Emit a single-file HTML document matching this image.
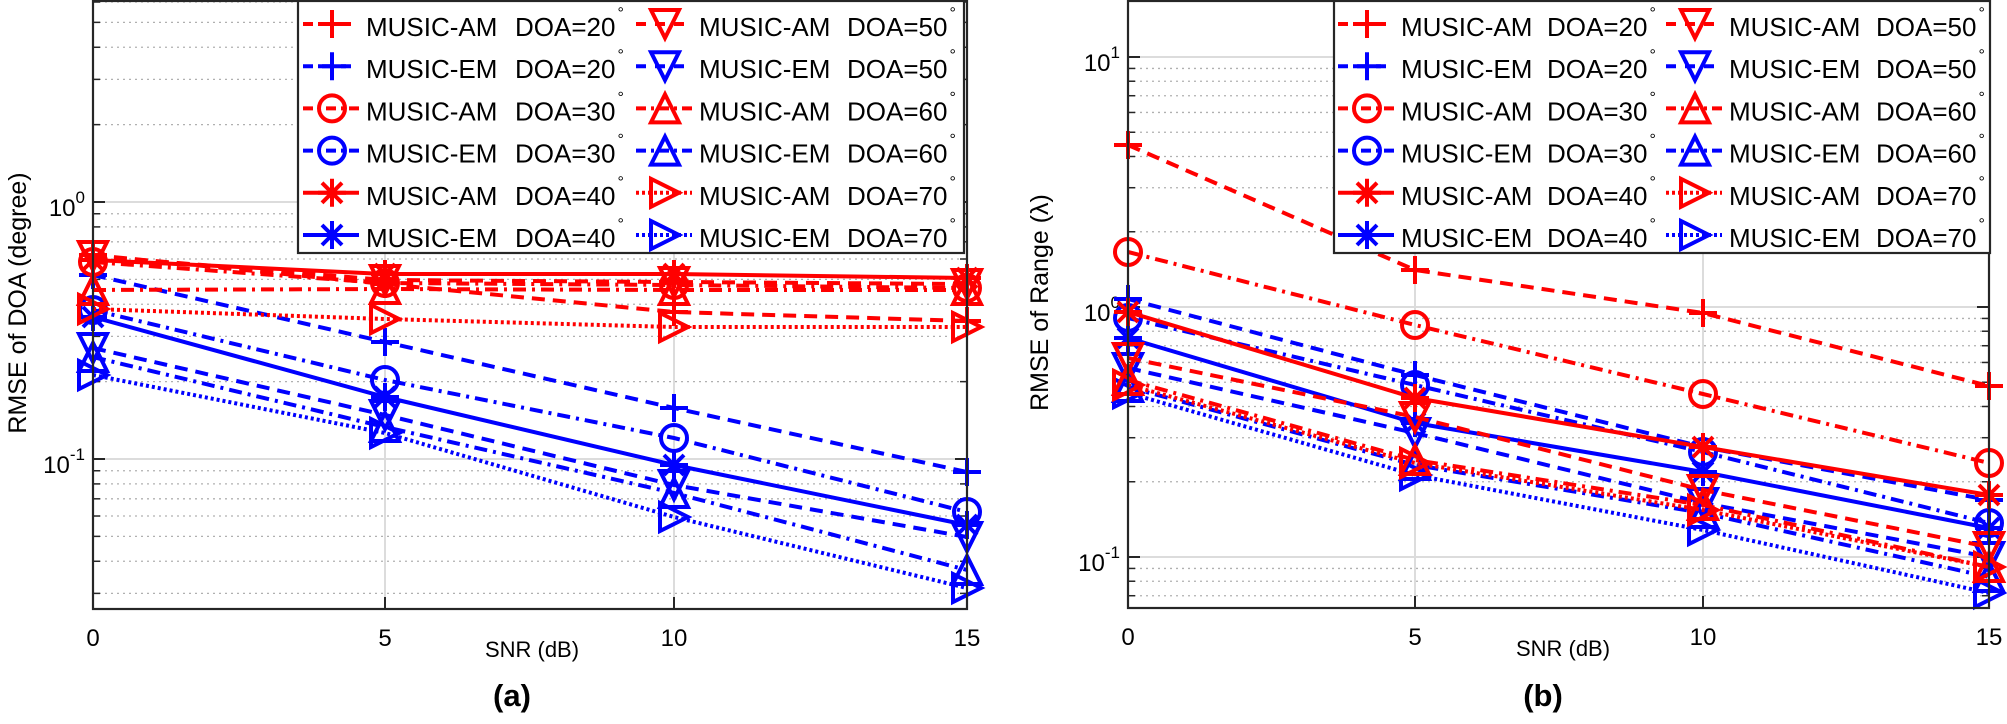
<!DOCTYPE html>
<html><head><meta charset="utf-8"><style>
html,body{margin:0;padding:0;background:#fff;}
svg{display:block;font-family:"Liberation Sans",Arial,sans-serif;}
</style></head><body>
<svg id="s" width="2007" height="724" viewBox="0 0 2007 724" xmlns="http://www.w3.org/2000/svg"></svg>
<script>
const S=document.getElementById('s');
let h='';
const R='#ff0000',B='#0000ff';
const dash={d:'13,8',dd:'13,6,3,6',s:'',o:'3,3'};
function marker(t,x,y,c){
  const r=14;
  if(t=='+')return `<path d="M${x-r} ${y}H${x+r}M${x} ${y-r}V${y+r}" stroke="${c}" stroke-width="4" fill="none"/>`;
  if(t=='o')return `<circle cx="${x}" cy="${y}" r="${r-1}" stroke="${c}" stroke-width="4" fill="none"/>`;
  if(t=='*')return `<path d="M${x-r} ${y}H${x+r}M${x} ${y-r}V${y+r}M${x-10} ${y-10}L${x+10} ${y+10}M${x-10} ${y+10}L${x+10} ${y-10}" stroke="${c}" stroke-width="4" fill="none"/>`;
  if(t=='v')return `<path d="M${x-r} ${y-r}H${x+r}L${x} ${y+r}Z" stroke="${c}" stroke-width="4" fill="none"/>`;
  if(t=='^')return `<path d="M${x-r} ${y+r}H${x+r}L${x} ${y-r}Z" stroke="${c}" stroke-width="4" fill="none"/>`;
  if(t=='>')return `<path d="M${x-r} ${y-r}V${y+r}L${x+r} ${y}Z" stroke="${c}" stroke-width="4" fill="none"/>`;
}
function series(xs,ys,c,ls,m){
  let p=xs.map((x,i)=>(i?'L':'M')+x+' '+ys[i]).join('');
  let s=`<path d="${p}" stroke="${c}" stroke-width="4" fill="none" ${dash[ls]?`stroke-dasharray="${dash[ls]}"`:''}/>`;
  xs.forEach((x,i)=>s+=marker(m,x,ys[i],c));
  return s;
}
function axes(L,Rt,T,Bt,xs,y0,dec,minors,majors,ylab,ylx,cap,capx,xlabx){
  let s='';
  minors.forEach(v=>{const y=y0-dec*Math.log10(v);if(y>T&&y<Bt)s+=`<line x1="${L}" x2="${Rt}" y1="${y}" y2="${y}" stroke="#b0b0b0" stroke-width="1.3" stroke-dasharray="2,4"/><line x1="${L}" x2="${L+7}" y1="${y}" y2="${y}" stroke="#262626" stroke-width="1.5"/><line x1="${Rt-7}" x2="${Rt}" y1="${y}" y2="${y}" stroke="#262626" stroke-width="1.5"/>`;});
  majors.forEach(([e])=>{const y=y0-dec*e;s+=`<line x1="${L}" x2="${Rt}" y1="${y}" y2="${y}" stroke="#dcdcdc" stroke-width="2"/><line x1="${L}" x2="${L+12}" y1="${y}" y2="${y}" stroke="#262626" stroke-width="2"/><line x1="${Rt-12}" x2="${Rt}" y1="${y}" y2="${y}" stroke="#262626" stroke-width="2"/>`;});
  xs.forEach((x,i)=>{if(i>0&&i<3)s+=`<line x1="${x}" x2="${x}" y1="${T}" y2="${Bt}" stroke="#dcdcdc" stroke-width="2"/><line x1="${x}" x2="${x}" y1="${Bt-12}" y2="${Bt}" stroke="#262626" stroke-width="2"/><line x1="${x}" x2="${x}" y1="${T}" y2="${T+12}" stroke="#262626" stroke-width="2"/>`;
    s+=`<text x="${x}" y="${Bt+37}" font-size="24" text-anchor="middle">${[0,5,10,15][i]}</text>`;});
  majors.forEach(([e])=>{const y=y0-dec*e;s+=`<text x="${L-8}" y="${y+14}" font-size="24" text-anchor="end">10<tspan dy="-13" font-size="17">${e}</tspan></text>`;});
  s+=`<text x="${xlabx}" y="${Bt+48}" font-size="22" text-anchor="middle">SNR (dB)</text>`;
  s+=`<text transform="translate(${ylx},${(T+Bt)/2-2}) rotate(-90)" font-size="25" text-anchor="middle">${ylab}</text>`;
  s+=`<text x="${capx}" y="706" font-size="31" font-weight="bold" text-anchor="middle">${cap}</text>`;
  return s;
}
function box(L,Rt,T,Bt){return `<rect x="${L}" y="${T}" width="${Rt-L}" height="${Bt-T}" fill="none" stroke="#262626" stroke-width="2.2"/>`;}
const names=[['AM','20',R,'d','+'],['EM','20',B,'d','+'],['AM','30',R,'dd','o'],['EM','30',B,'dd','o'],['AM','40',R,'s','*'],['EM','40',B,'s','*'],
['AM','50',R,'d','v'],['EM','50',B,'d','v'],['AM','60',R,'dd','^'],['EM','60',B,'dd','^'],['AM','70',R,'o','>'],['EM','70',B,'o','>']];
function legend(L,Rt,m1,t1,d1,m2,t2,d2){
  let s=`<rect x="${L}" y="1" width="${Rt-L}" height="252" fill="#fff" stroke="#262626" stroke-width="2.2"/>`;
  names.forEach((n,i)=>{const col=i<6?0:1,row=i%6,y=24+row*42.2;
    const m=col?m2:m1,t=col?t2:t1,d=col?d2:d1;
    s+=`<line x1="${m-29}" x2="${m+27}" y1="${y}" y2="${y}" stroke="${n[2]}" stroke-width="4" ${dash[n[3]]?`stroke-dasharray="${n[3]=='o'?'3,3':n[3]=='dd'?'10,5,3,5':'10,9'}"`:''}/>`;
    s+=marker(n[4],m,y,n[2]);
    s+=`<text x="${t}" y="${y+12}" font-size="26">MUSIC-${n[0]}</text><text x="${d}" y="${y+12}" font-size="26">DOA=${n[1]}<tspan dx="2" dy="-18" font-size="16">°</tspan></text>`;});
  return s;
}
const xl=[93,385,674,967];
h+=axes(93,967,1,609,xl,202,257,[0.03,0.04,0.05,0.06,0.07,0.08,0.09,0.2,0.3,0.4,0.5,0.6,0.7,0.8,0.9,2,3,4,5,6],[[0],[-1]],'RMSE of DOA (degree)',26,'(a)',512,532);
const dl={
'AM20':[255,284,312,321],'EM20':[275,342,408,472],'AM30':[262,283,285,288],'EM30':[310,380,438,512],
'AM40':[260,274,274,278],'EM40':[317,397,465,525],'AM50':[256,280,282,284],'EM50':[348,415,485,537],
'AM60':[290,289,290,290],'EM60':[357,427,493,570],'AM70':[309,319,327,327],'EM70':[375,433,517,588]};
const order=[11,9,7,5,3,1,10,8,6,2,0,4];
order.forEach(i=>{const n=names[i];h+=series(xl,dl[n[0]+n[1]],n[2],n[3],n[4]);});
h+=box(93,967,1,609);
h+=legend(298,964,332,366,515,665,699,847);
const xr=[1128,1415,1703,1989];
h+=axes(1128,1989,1,608,xr,307,250,[0.07,0.08,0.09,0.2,0.3,0.4,0.5,0.6,0.7,0.8,0.9,2,3,4,5,6,7,8,9],[[1],[0],[-1]],'RMSE of Range (λ)',1048,'(b)',1543,1563);
const dr={
'AM20':[145,270,313,386],'EM20':[299,375,447,500],'AM30':[252,325,394,463],'EM30':[318,385,452,523],
'AM40':[312,398,447,495],'EM40':[338,423,472,528],'AM50':[358,417,490,547],'EM50':[368,433,503,557],
'AM60':[380,460,505,567],'EM60':[387,465,513,577],'AM70':[385,463,510,567],'EM70':[393,475,530,593]};
order.forEach(i=>{const n=names[i];h+=series(xr,dr[n[0]+n[1]],n[2],n[3],n[4]);});
h+=box(1128,1989,1,608);
h+=legend(1334,1990,1367,1401,1547,1695,1729,1876);
S.innerHTML=h;
</script>
</body></html>
